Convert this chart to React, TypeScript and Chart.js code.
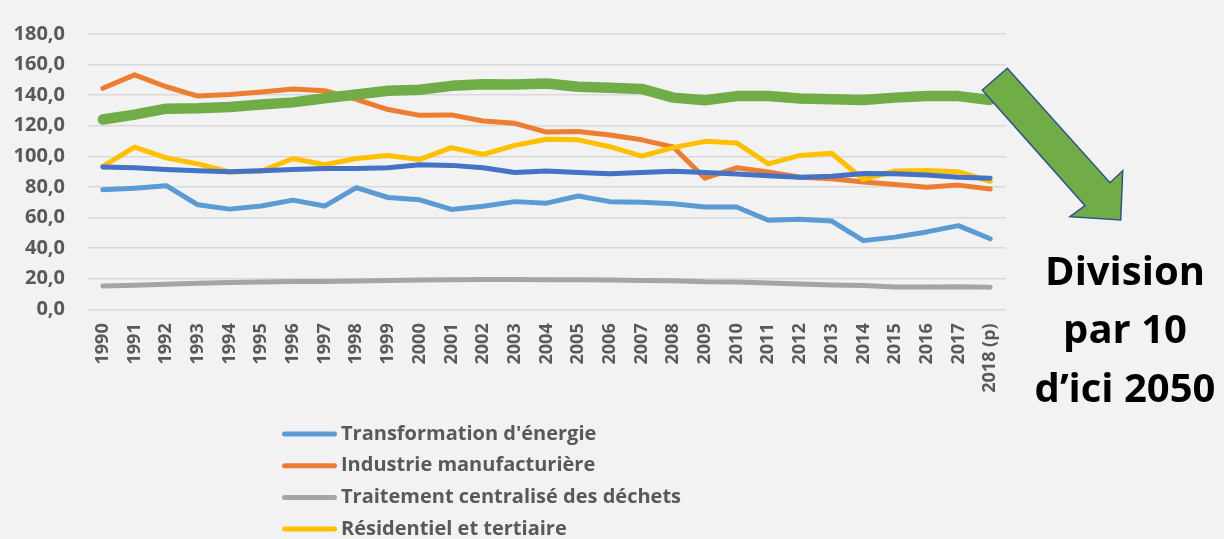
import React, { useEffect, useRef } from "react";
import { Chart, registerables } from "chart.js";

Chart.register(...registerables);

const years = [
  "1990", "1991", "1992", "1993", "1994", "1995", "1996", "1997", "1998", "1999",
  "2000", "2001", "2002", "2003", "2004", "2005", "2006", "2007", "2008", "2009",
  "2010", "2011", "2012", "2013", "2014", "2015", "2016", "2017", "2018 (p)",
];

const transformation = [78.1, 79.2, 80.8, 68.3, 65.5, 67.5, 71.4, 67.5, 79.6, 73.1, 71.6, 65.3, 67.4, 70.4, 69.4, 74.1, 70.4, 70.0, 69.0, 66.9, 66.9, 58.2, 58.8, 57.7, 44.9, 47.2, 50.6, 54.7, 46.1];
const industrie = [144.5, 153.3, 145.5, 139.4, 140.4, 142.1, 144.1, 142.9, 137.3, 130.6, 126.8, 127.1, 123.1, 121.6, 115.9, 116.3, 113.9, 110.8, 106.1, 85.7, 92.5, 89.8, 86.3, 85.3, 83.3, 81.6, 79.8, 81.2, 78.6];
const dechets = [15.3, 15.8, 16.4, 17.0, 17.5, 17.9, 18.1, 18.2, 18.5, 18.8, 19.1, 19.3, 19.5, 19.5, 19.4, 19.3, 19.1, 18.8, 18.6, 18.0, 17.9, 17.2, 16.5, 15.9, 15.5, 14.6, 14.5, 14.8, 14.4];
const residentiel = [93.4, 106.1, 99.0, 95.1, 89.8, 90.4, 98.6, 94.5, 98.6, 100.6, 98.0, 105.7, 101.2, 107.2, 111.2, 110.8, 106.3, 100.2, 105.7, 109.8, 108.8, 95.1, 100.6, 102.0, 84.9, 90.4, 90.8, 90.0, 83.7];
const agriculture = [93.1, 92.5, 91.4, 90.6, 90.0, 90.6, 91.4, 92.0, 92.0, 92.5, 94.5, 94.1, 92.5, 89.4, 90.4, 89.4, 88.6, 89.4, 90.2, 89.4, 88.4, 87.3, 86.3, 87.0, 88.8, 88.6, 87.8, 86.3, 85.7];
const transports = [124.1, 127.3, 131.2, 131.4, 132.3, 133.9, 135.3, 138.0, 140.4, 142.9, 143.5, 146.1, 147.2, 147.0, 147.6, 145.5, 144.9, 144.1, 138.4, 136.7, 139.4, 139.4, 137.8, 137.4, 136.9, 138.4, 139.4, 139.4, 136.9];

const seriesLabels = [
  "Transformation d'énergie",
  "Industrie manufacturière",
  "Traitement centralisé des déchets",
  "Résidentiel et tertiaire",
  "Agriculture/sylviculture",
  "Transports",
];
const seriesColors = ["#5b9bd5", "#ed7d31", "#a5a5a5", "#ffc000", "#4472c4", "#70ad47"];
const legendShown = 4;

const noteLines = ["Division", "par 10", "d\u2019ici 2050"];

const FONT = "'Open Sans', 'DejaVu Sans', sans-serif";

const overlayPlugin = {
  id: "overlay",
  afterDraw(chart: any) {
    const ctx = chart.ctx as CanvasRenderingContext2D;
    ctx.save();
    // arrow
    ctx.beginPath();
    ctx.moveTo(1007.3, 68.3);
    ctx.lineTo(1110, 182.7);
    ctx.lineTo(1122.7, 170.7);
    ctx.lineTo(1120.7, 220);
    ctx.lineTo(1070, 216.7);
    ctx.lineTo(1085, 205.7);
    ctx.lineTo(982.3, 90);
    ctx.closePath();
    ctx.fillStyle = "#70ad47";
    ctx.fill();
    ctx.lineWidth = 1.5;
    ctx.strokeStyle = "#2f528f";
    ctx.lineJoin = "miter";
    ctx.stroke();

    // note text
    ctx.fillStyle = "#000000";
    ctx.font = `bold 40px ${FONT}`;
    ctx.textAlign = "center";
    ctx.textBaseline = "alphabetic";
    const baselines = [285, 343, 402];
    noteLines.forEach((t, i) => ctx.fillText(t, 1125, baselines[i]));

    // legend
    ctx.textAlign = "left";
    ctx.textBaseline = "middle";
    ctx.font = `bold 20px ${FONT}`;
    ctx.lineCap = "round";
    for (let i = 0; i < legendShown; i++) {
      const y = 434 + i * 31.7;
      ctx.beginPath();
      ctx.moveTo(284.5, y);
      ctx.lineTo(334.5, y);
      ctx.strokeStyle = seriesColors[i];
      ctx.lineWidth = 5;
      ctx.stroke();
      ctx.fillStyle = "#595959";
      ctx.fillText(seriesLabels[i], 341, y);
    }
    ctx.restore();
  },
};

export default function App() {
  const ref = useRef<HTMLCanvasElement | null>(null);

  useEffect(() => {
    if (!ref.current) return;
    const allData = [transformation, industrie, dechets, residentiel, agriculture, transports];
    const chart = new Chart(ref.current, {
      type: "line",
      data: {
        labels: years,
        datasets: allData.map((d, i) => ({
          label: seriesLabels[i],
          data: d,
          borderColor: seriesColors[i],
          backgroundColor: seriesColors[i],
          borderWidth: i === 5 ? 10.5 : 5,
          borderCapStyle: "round",
          borderJoinStyle: "round",
          pointRadius: 0,
          pointHoverRadius: 0,
          tension: 0,
          fill: false,
          order: 6 - i,
        })),
      },
      options: {
        responsive: false,
        animation: false,
        devicePixelRatio: 1,
        layout: { padding: { left: 0, top: 15.7, right: 218, bottom: 119 } },
        plugins: {
          legend: { display: false },
          tooltip: { enabled: false },
        },
        scales: {
          x: {
            type: "category",
            offset: true,
            grid: { display: false, drawTicks: false },
            border: { display: false },
            ticks: {
              autoSkip: false,
              maxRotation: 90,
              minRotation: 90,
              padding: 14,
              color: "#595959",
              font: { family: FONT, size: 18, weight: "bold" },
            },
            afterFit: (scale: any) => {
              scale.height = 110.7;
            },
          },
          y: {
            min: 0,
            max: 180,
            grid: { color: "#d9d9d9", lineWidth: 1.6, drawTicks: false },
            border: { display: false },
            ticks: {
              stepSize: 20,
              padding: 22,
              color: "#595959",
              font: { family: FONT, size: 20, weight: "bold" },
              callback: (v: any) => Number(v).toFixed(1).replace(".", ","),
            },
            afterFit: (scale: any) => {
              scale.width = 87;
            },
          },
        },
      },
      plugins: [overlayPlugin],
    } as any);
    return () => chart.destroy();
  }, []);

  return (
    <div
      style={{
        position: "fixed",
        left: 0,
        top: 0,
        width: 1224,
        height: 539,
        background: "#f2f2f2",
        overflow: "hidden",
      }}
    >
      <canvas ref={ref} width={1224} height={539} style={{ display: "block", width: 1224, height: 539 }} />
    </div>
  );
}
